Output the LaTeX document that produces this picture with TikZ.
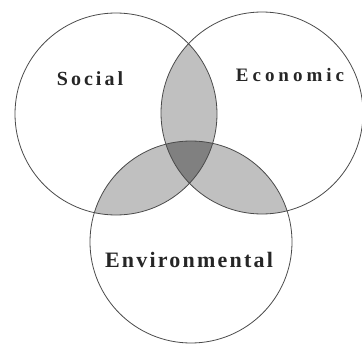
\documentclass[tikz,border=0pt]{standalone}
\usepackage{fontspec}
\setmainfont{Liberation Serif}
\definecolor{vennlight}{HTML}{C0C0C0}
\definecolor{venndark}{HTML}{808080}
\definecolor{vennline}{HTML}{4A4A4A}
\tikzset{
  ring/.style={circle,draw=vennline,line width=0.8pt,minimum size=202pt,inner sep=0pt},
  lens/.style={fill=vennlight},
  core/.style={fill=venndark},
  lbl/.style={anchor=base,inner sep=0pt,text=black!85},
}

\begin{document}
\begin{tikzpicture}[x=1pt,y=-1pt]
  \useasboundingbox (0,0) rectangle (362,345);
  \coordinate (soc) at (116,114);
  \coordinate (eco) at (262,113);
  \coordinate (env) at (191,242);
  % pairwise overlaps
  \begin{scope}
    \clip (soc) circle[radius=101pt];
    \fill[lens] (eco) circle[radius=101pt];
    \fill[lens] (env) circle[radius=101pt];
  \end{scope}
  \begin{scope}
    \clip (eco) circle[radius=101pt];
    \fill[lens] (env) circle[radius=101pt];
  \end{scope}
  % centre
  \begin{scope}
    \clip (soc) circle[radius=101pt];
    \clip (eco) circle[radius=101pt];
    \fill[core] (env) circle[radius=101pt];
  \end{scope}
  \node[ring] (socring) at (soc) {};
  \node[ring] (ecoring) at (eco) {};
  \node[ring] (envring) at (env) {};
  \node[lbl,font={\fontsize{20}{24}\selectfont\bfseries\addfontfeatures{LetterSpace=15}}] (social) at (90,86) {Social};
  \node[lbl,font={\fontsize{19}{22}\selectfont\bfseries\addfontfeatures{LetterSpace=21}}] (economic) at (290,82) {Economic};
  \node[lbl,font={\fontsize{22}{26}\selectfont\bfseries\addfontfeatures{LetterSpace=10}}] (environmental) at (189,267) {Environmental};
\end{tikzpicture}
\end{document}
